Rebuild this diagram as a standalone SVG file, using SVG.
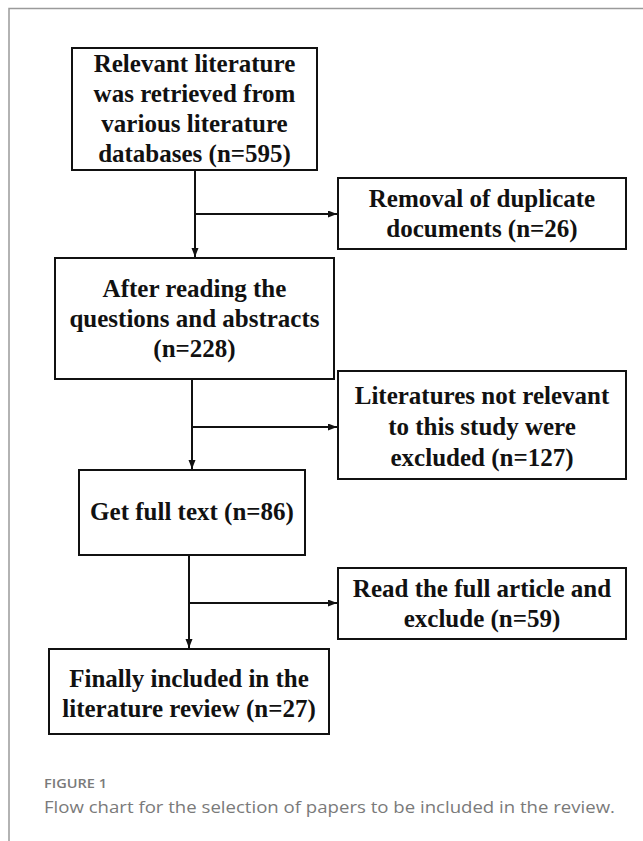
<svg xmlns="http://www.w3.org/2000/svg" width="643" height="841" viewBox="0 0 643 841">
  <style>
    .box { fill: #ffffff; stroke: #111111; stroke-width: 2; }
    .lbl { font-family: "Liberation Serif", "Times New Roman", serif; font-weight: bold; font-size: 25px; fill: #111111; text-anchor: middle; }
    .con { fill: none; stroke: #111111; stroke-width: 2; }
    .cap1 { font-family: "Open Sans", "Noto Sans", sans-serif; font-weight: 600; font-size: 13px; fill: #7a7a7a; }
    .cap2 { font-family: "Open Sans", "Noto Sans", sans-serif; font-weight: 400; font-size: 15.5px; fill: #7a7a7a; }
  </style>
  <defs>
    <marker id="arr" markerUnits="userSpaceOnUse" markerWidth="10" markerHeight="8" refX="9" refY="3.5" orient="auto">
      <path d="M0,0 L9,3.5 L0,7 z" fill="#111111"/>
    </marker>
  </defs>
  <rect x="0" y="0" width="643" height="841" fill="#ffffff"/>
  <path d="M9,841 V8.5 H643" fill="none" stroke="#9a9a9a" stroke-width="1.5"/>

  <g id="connectors">
    <path class="con" d="M195,170 V257" marker-end="url(#arr)"/>
    <path class="con" d="M195,214 H337" marker-end="url(#arr)"/>
    <path class="con" d="M192,379 V469" marker-end="url(#arr)"/>
    <path class="con" d="M192,427 H337" marker-end="url(#arr)"/>
    <path class="con" d="M189,555 V648" marker-end="url(#arr)"/>
    <path class="con" d="M189,603 H337" marker-end="url(#arr)"/>
  </g>

  <g id="n1">
    <rect class="box" x="72" y="48" width="245" height="122"/>
    <text class="lbl" x="194.5" y="72">Relevant literature</text>
    <text class="lbl" x="194.5" y="102">was retrieved from</text>
    <text class="lbl" x="194.5" y="132">various literature</text>
    <text class="lbl" x="194.5" y="162">databases (n=595)</text>
  </g>
  <g id="n2">
    <rect class="box" x="338" y="178" width="288" height="71"/>
    <text class="lbl" x="482" y="207">Removal of duplicate</text>
    <text class="lbl" x="482" y="237">documents (n=26)</text>
  </g>
  <g id="n3">
    <rect class="box" x="55" y="258" width="279" height="121"/>
    <text class="lbl" x="194.5" y="297">After reading the</text>
    <text class="lbl" x="194.5" y="327">questions and abstracts</text>
    <text class="lbl" x="194.5" y="357">(n=228)</text>
  </g>
  <g id="n4">
    <rect class="box" x="338" y="371" width="288" height="108"/>
    <text class="lbl" x="482" y="404">Literatures not relevant</text>
    <text class="lbl" x="482" y="435">to this study were</text>
    <text class="lbl" x="482" y="466">excluded (n=127)</text>
  </g>
  <g id="n5">
    <rect class="box" x="79" y="470" width="226" height="85"/>
    <text class="lbl" x="192" y="520">Get full text (n=86)</text>
  </g>
  <g id="n6">
    <rect class="box" x="338" y="568" width="288" height="71"/>
    <text class="lbl" x="482" y="597">Read the full article and</text>
    <text class="lbl" x="482" y="627">exclude (n=59)</text>
  </g>
  <g id="n7">
    <rect class="box" x="49" y="649" width="280" height="85"/>
    <text class="lbl" x="189" y="687">Finally included in the</text>
    <text class="lbl" x="189" y="717">literature review (n=27)</text>
  </g>

  <g id="caption">
    <text class="cap1" x="44" y="788" textLength="63" lengthAdjust="spacingAndGlyphs">FIGURE 1</text>
    <text class="cap2" x="44" y="813" textLength="571" lengthAdjust="spacingAndGlyphs">Flow chart for the selection of papers to be included in the review.</text>
  </g>
</svg>
